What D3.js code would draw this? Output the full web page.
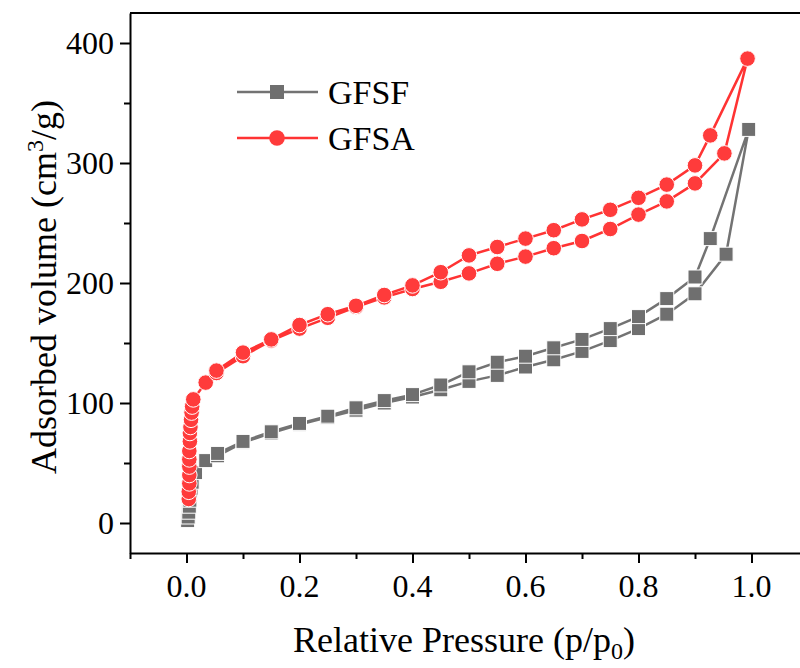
<!DOCTYPE html>
<html>
<head>
<meta charset="utf-8">
<script src="https://cdn.jsdelivr.net/npm/d3@7"></script>
<style>
  body { margin: 0; background: #fff; }
  svg { display: block; font-family: "Liberation Serif", "Times New Roman", serif; }
</style>
</head>
<body>
<div id="chart"></div>
<script>
// 1: DATA
// GFSF: adsorption branch (low -> high p), then desorption branch (high -> low p)
const gfsfAdsP = [0.002, 0.003, 0.004, 0.005, 0.006, 0.007, 0.008, 0.010, 0.016, 0.034, 0.055, 0.10, 0.15, 0.20, 0.25, 0.30, 0.35, 0.40, 0.45, 0.50, 0.55, 0.60, 0.65, 0.70, 0.75, 0.80, 0.85, 0.90, 0.955, 0.995];
const gfsfAdsV = [2, 5, 9, 14, 19, 24, 29, 34, 42, 52, 56, 67, 75, 82, 88, 94, 100, 105, 111, 118, 123, 130, 136, 143, 152, 162, 174, 191, 224, 328];
const gfsfDesP = [0.927, 0.90, 0.85, 0.80, 0.75, 0.70, 0.65, 0.60, 0.55, 0.50, 0.45, 0.40, 0.35, 0.30, 0.25, 0.20, 0.15, 0.10, 0.055];
const gfsfDesV = [237, 205, 187, 172, 162, 153, 146, 139, 134, 126, 115, 107, 102, 96, 89, 83, 76, 68, 58];

// GFSA
const gfsaAdsP = [0.004, 0.004, 0.005, 0.005, 0.005, 0.005, 0.005, 0.006, 0.006, 0.007, 0.008, 0.009, 0.010, 0.012, 0.034, 0.053, 0.10, 0.15, 0.20, 0.25, 0.30, 0.35, 0.40, 0.45, 0.50, 0.55, 0.60, 0.65, 0.70, 0.75, 0.80, 0.85, 0.90, 0.952, 0.993];
const gfsaAdsV = [20, 26, 33, 40, 47, 53, 60, 68, 75, 80, 86, 92, 97, 103, 117, 125, 139, 152, 162, 171, 180, 188, 195, 201, 208, 216, 222, 229, 235, 245, 257, 268, 283, 308, 387];
const gfsaDesP = [0.927, 0.90, 0.85, 0.80, 0.75, 0.70, 0.65, 0.60, 0.55, 0.50, 0.45, 0.40, 0.35, 0.30, 0.25, 0.20, 0.15, 0.10, 0.053];
const gfsaDesV = [323, 298, 282, 271, 261, 253, 244, 237, 230, 223, 209, 198, 190, 181, 174, 165, 153, 142, 127];

const seriesNames = ["GFSF", "GFSA"];
const xTicks = [0, 0.2, 0.4, 0.6, 0.8, 1.0];
const yTicks = [0, 100, 200, 300, 400];

// 2: SETUP
const W = 800, H = 668;
const svg = d3.select("#chart").append("svg")
    .attr("width", W)
    .attr("height", H);

const x = d3.scaleLinear().domain([-0.1, 1.1]).range([130, 808]);
const y = d3.scaleLinear().domain([-25, 425]).range([553, 13]);

const zip = (ps, vs) => ps.map((p, i) => ({ p: p, v: vs[i] }));
const gfsf = zip(gfsfAdsP, gfsfAdsV).concat(zip(gfsfDesP, gfsfDesV));
const gfsa = zip(gfsaAdsP, gfsaAdsV).concat(zip(gfsaDesP, gfsaDesV));

const gray = "#6f6f6f", grayLine = "#737373";
const red = "#ff3b3b", redLine = "#ff3333";

// 3: AXES
const fontTick = "32px";
const fontTitle = "36px";

// frame: top line (left and bottom come from the axes)
svg.append("line").attr("x1", x.range()[0]).attr("x2", x.range()[1])
    .attr("y1", y.range()[1]).attr("y2", y.range()[1])
    .attr("stroke", "#000").attr("stroke-width", 2);

// bottom axis with minor ticks
const xAxis = svg.append("g")
    .attr("transform", `translate(0,${y.range()[0]})`)
    .call(d3.axisBottom(x).tickValues(d3.range(-0.1, 1.11, 0.1).map(d => +d.toFixed(1)))
        .tickSize(0).tickFormat(""));
xAxis.select(".domain").attr("stroke-width", 2);
xAxis.selectAll(".tick line")
    .attr("y2", d => xTicks.some(t => Math.abs(t - d) < 1e-6) ? 10 : 6)
    .attr("stroke-width", 2);

svg.append("g").selectAll("text")
    .data(xTicks)
    .enter().append("text")
    .attr("x", d => x(d))
    .attr("y", 597)
    .attr("text-anchor", "middle")
    .style("font-size", fontTick)
    .text(d => d.toFixed(1));

// left axis with minor ticks
const yAxis = svg.append("g")
    .attr("transform", `translate(${x.range()[0]},0)`)
    .call(d3.axisLeft(y).tickValues(d3.range(0, 401, 50)).tickSize(0).tickFormat(""));
yAxis.select(".domain").attr("stroke-width", 2);
yAxis.selectAll(".tick line")
    .attr("x2", d => d % 100 === 0 ? -10 : -6)
    .attr("stroke-width", 2);

svg.append("g").selectAll("text")
    .data(yTicks)
    .enter().append("text")
    .attr("x", 114)
    .attr("y", d => y(d) + 11)
    .attr("text-anchor", "end")
    .style("font-size", fontTick)
    .text(d => d);

// axis titles
const xTitle = svg.append("text")
    .attr("x", 464)
    .attr("y", 652)
    .attr("text-anchor", "middle")
    .style("font-size", fontTitle);
xTitle.append("tspan").text("Relative Pressure (p/p");
xTitle.append("tspan").attr("dy", 7).style("font-size", "24px").text("0");
xTitle.append("tspan").attr("dy", -7).text(")");

const yTitle = svg.append("text")
    .attr("transform", "translate(56,287) rotate(-90)")
    .attr("text-anchor", "middle")
    .style("font-size", fontTitle);
yTitle.append("tspan").text("Adsorbed volume (cm");
yTitle.append("tspan").attr("dy", -13).style("font-size", "24px").text("3");
yTitle.append("tspan").attr("dy", 13).text("/g)");

// 4: DATA MARKS
const line = d3.line().x(d => x(d.p)).y(d => y(d.v));

svg.append("path").datum(gfsf)
    .attr("fill", "none").attr("stroke", grayLine).attr("stroke-width", 2.5)
    .attr("d", line);
svg.append("g").selectAll("rect")
    .data(gfsf)
    .enter().append("rect")
    .attr("x", d => x(d.p) - 7)
    .attr("y", d => y(d.v) - 7)
    .attr("width", 14)
    .attr("height", 14)
    .attr("fill", gray)
    .attr("stroke", "#fff").attr("stroke-width", 1);

svg.append("path").datum(gfsa)
    .attr("fill", "none").attr("stroke", redLine).attr("stroke-width", 2.5)
    .attr("d", line);
svg.append("g").selectAll("circle")
    .data(gfsa)
    .enter().append("circle")
    .attr("cx", d => x(d.p))
    .attr("cy", d => y(d.v))
    .attr("r", 7.8)
    .attr("fill", red)
    .attr("stroke", "#fff").attr("stroke-width", 1);

// 5: LEGEND
const legend = svg.append("g").attr("transform", "translate(237,92)");
seriesNames.forEach((name, i) => {
    const g = legend.append("g").attr("transform", `translate(0,${i * 46})`);
    g.append("line").attr("x1", 0).attr("x2", 81)
        .attr("stroke", i === 0 ? grayLine : redLine).attr("stroke-width", 2.5);
    if (i === 0) {
        g.append("rect").attr("x", 33).attr("y", -7).attr("width", 14).attr("height", 14).attr("fill", gray);
    } else {
        g.append("circle").attr("cx", 40).attr("r", 7.8).attr("fill", red);
    }
    g.append("text").attr("x", 91).attr("y", 12)
        .style("font-size", "34px")
        .text(name);
});
</script>
</body>
</html>
